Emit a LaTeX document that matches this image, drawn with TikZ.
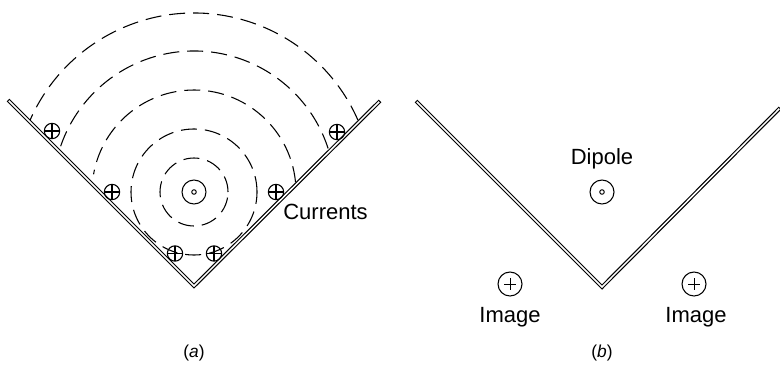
\documentclass[tikz,border=0pt]{standalone}
\usepackage{fontspec}
\setmainfont{Liberation Sans}
\tikzset{
  wall/.style = {draw = black, line width = 2.9pt, miter limit = 10, postaction = {draw = white, line width = 1.1pt, shorten <= .8pt, shorten >= .8pt}},
  field/.style = {draw = black, line width = .8pt, dash pattern = on 12pt off 6pt},
  ring/.style = {draw = black, circle, line width = .8pt, inner sep = 0pt, minimum size = 18pt},
  centredot/.style = {draw = black, circle, line width = .7pt, inner sep = 0pt, minimum size = 3.4pt},
  current/.style = {draw = black, circle, line width = .8pt, inner sep = 0pt, minimum size = 11.5pt,
    path picture = {\draw [line width = .8pt] (path picture bounding box.north) -- (path picture bounding box.south) (path picture bounding box.west) -- (path picture bounding box.east);}},
  imagering/.style = {ring, path picture = {\draw [line width = .7pt] ([yshift = -4.6pt]path picture bounding box.north) -- ([yshift = 4.6pt]path picture bounding box.south) ([xshift = 4.6pt]path picture bounding box.west) -- ([xshift = -4.6pt]path picture bounding box.east);}},
  label/.style = {font = \fontsize{16.5pt}{18pt}\selectfont, inner sep = 0pt},
  caption/.style = {font = \fontsize{13pt}{15pt}\selectfont, inner sep = 0pt}
}
\begin{document}
\begin{tikzpicture}[x = .75pt, y = .75pt]
\useasboundingbox (0,0) rectangle (780,365);
% panel a
\coordinate (dipA) at (194,173);
\coordinate (wallAl) at (8,265);
\coordinate (wallAm) at (194,79);
\coordinate (wallAr) at (380,264);
\foreach \r in {34,63} \draw [field] (dipA) circle [radius = \r];
\draw [field] (dipA) ++(5.6:102) arc [start angle = 5.6, end angle = 170, radius = 102];
\draw [field] (dipA) ++(18:141) arc [start angle = 18, end angle = 161.4, radius = 141];
\draw [field] (dipA) ++(23.7:179) arc [start angle = 23.7, end angle = 156.3, radius = 179];
\draw [wall] (wallAl) -- (wallAm) -- (wallAr);
\node [ring] (ringA) at (dipA) {};
\node [centredot] (dotA) at (dipA) {};
\foreach \x/\y [count = \n] in {52/234,112/173,175/111.5,214/111.5,276/173,337/233}
  \node [current] (cur\n) at (\x,\y) {};
\node [label] (currents) at (325.5,153) {Currents};
\node [caption] (capA) at (194,12) {(\textit{a})};
% panel b
\coordinate (wallBl) at (416,264);
\coordinate (wallBm) at (602,78);
\coordinate (wallBr) at (780,257);
\draw [wall] (wallBl) -- (wallBm) -- (wallBr);
\node [ring] (ringB) at (602,173) {};
\node [centredot] (dotB) at (ringB) {};
\node [label] (dipole) at (602,206) {Dipole};
\node [imagering] (imgL) at (510,81) {};
\node [imagering] (imgR) at (694,81) {};
\node [label] (imgtextL) at (510,48) {Image};
\node [label] (imgtextR) at (696,48) {Image};
\node [caption] (capB) at (602,12) {(\textit{b})};
\end{tikzpicture}
\end{document}
